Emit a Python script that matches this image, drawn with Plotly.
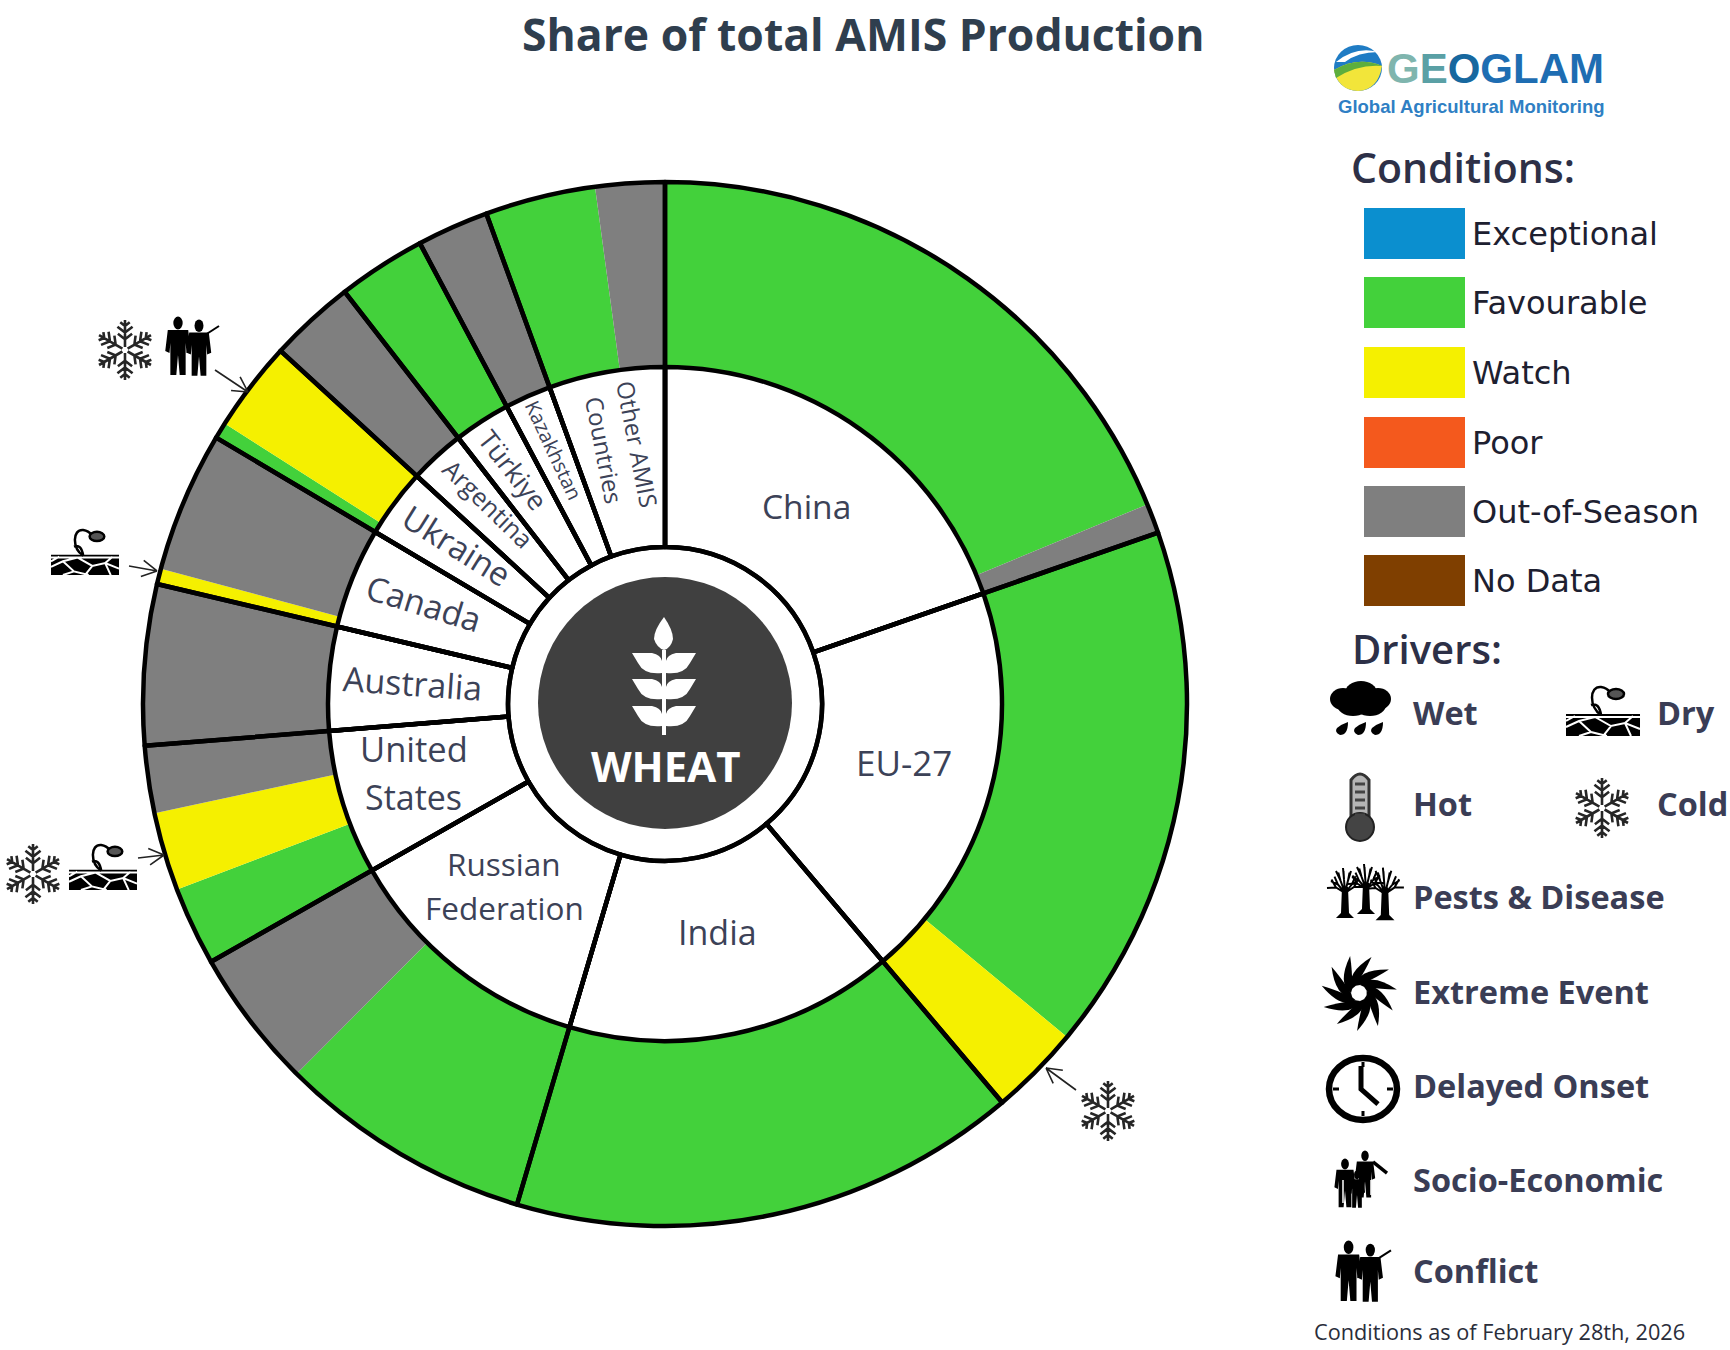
import math
import re
import plotly.graph_objects as go

W, H = 1730, 1350

# ---------- data (percent share of total AMIS production) ----------
countries = ["China", "EU-27", "India", "Russian Federation", "United States", "Australia",
             "Canada", "Ukraine", "Argentina", "Türkiye", "Kazakhstan", "Other AMIS Countries"]
china = [18.75, 0.92]
eu27 = [16.33, 2.81]
india = [15.75]
russia = [7.89, 4.31]
united_states = [2.44, 2.42, 2.08]
australia = [4.97]
canada = [0.48, 4.35]
ukraine = [0.50, 2.80]
argentina = [2.66]
turkiye = [2.73]
kazakhstan = [2.22]
other = [3.42, 2.14]

china_cond = ["Favourable", "Out-of-Season"]
eu27_cond = ["Favourable", "Watch"]
india_cond = ["Favourable"]
russia_cond = ["Favourable", "Out-of-Season"]
us_cond = ["Favourable", "Watch", "Out-of-Season"]
australia_cond = ["Out-of-Season"]
canada_cond = ["Watch", "Out-of-Season"]
ukraine_cond = ["Favourable", "Watch"]
argentina_cond = ["Out-of-Season"]
turkiye_cond = ["Favourable"]
kazakhstan_cond = ["Out-of-Season"]
other_cond = ["Favourable", "Out-of-Season"]

condition_names = ["Exceptional", "Favourable", "Watch", "Poor", "Out-of-Season", "No Data"]
condition_colors = ["#0b8fcf", "#43d13b", "#f5f000", "#f4591d", "#7f7f7f", "#7f3f00"]
driver_names = ["Wet", "Dry", "Hot", "Cold", "Pests & Disease", "Extreme Event",
                "Delayed Onset", "Socio-Economic", "Conflict"]

# ---------- derived ----------
groups = [china, eu27, india, russia, united_states, australia, canada, ukraine,
          argentina, turkiye, kazakhstan, other]
cond_groups = [china_cond, eu27_cond, india_cond, russia_cond, us_cond, australia_cond, canada_cond,
               ukraine_cond, argentina_cond, turkiye_cond, kazakhstan_cond, other_cond]
seg_values = [v for g in groups for v in g]
seg_conds = [c for g in cond_groups for c in g]
cmap = dict(zip(condition_names, condition_colors))
seg_colors = [cmap[c] for c in seg_conds]
shares = [sum(g) for g in groups]

# ---------- geometry ----------
CX, CY, R1, R2, R3 = 665, 704, 522, 337, 157
LW = 4.5


def dom(r):
    return dict(x=[(CX - r) / W, (CX + r) / W], y=[1 - (CY + r) / H, 1 - (CY - r) / H])


fig = go.Figure()
fig.add_trace(go.Pie(values=seg_values, labels=[f"{i}" for i in range(len(seg_values))],
                     marker=dict(colors=seg_colors, line=dict(width=0)), sort=False,
                     direction="clockwise", rotation=0, hole=R2 / R1, domain=dom(R1),
                     textinfo="none", hoverinfo="skip", showlegend=False))
fig.add_trace(go.Pie(values=shares, labels=countries,
                     marker=dict(colors=["white"] * 12, line=dict(color="black", width=LW)), sort=False,
                     direction="clockwise", rotation=0, hole=R3 / R2, domain=dom(R2),
                     textinfo="none", hoverinfo="skip", showlegend=False))
fig.add_trace(go.Pie(values=shares, labels=countries,
                     marker=dict(colors=["rgba(0,0,0,0)"] * 12, line=dict(color="black", width=LW)), sort=False,
                     direction="clockwise", rotation=0, hole=R3 / R1, domain=dom(R1),
                     textinfo="none", hoverinfo="skip", showlegend=False))

shapes, annos = [], []


def conv(d):
    out = []
    tok = re.findall(r"[MLQCZ]|-?\d+\.?\d*(?:e-?\d+)?", d)
    isx = True
    for t in tok:
        if t in "MLQCZ":
            out.append(t)
            isx = True
        else:
            v = float(t)
            out.append(f"{v / W:.5f}" if isx else f"{1 - v / H:.5f}")
            isx = not isx
    return " ".join(out)


def path(d, fill=None, line=None, width=0):
    s = dict(type="path", xref="paper", yref="paper", path=conv(d), layer="above",
             line=dict(width=width, color=line or "rgba(0,0,0,0)"))
    if fill:
        s["fillcolor"] = fill
    shapes.append(s)


def rect(x0, y0, x1, y1, fill):
    shapes.append(dict(type="rect", xref="paper", yref="paper", x0=x0 / W, x1=x1 / W, y0=1 - y0 / H, y1=1 - y1 / H,
                       fillcolor=fill, line=dict(width=0), layer="above"))


def ell(cx, cy, rx, ry, fill=None, line=None, width=0):
    s = dict(type="circle", xref="paper", yref="paper", x0=(cx - rx) / W, x1=(cx + rx) / W,
             y0=1 - (cy + ry) / H, y1=1 - (cy - ry) / H, layer="above",
             line=dict(width=width, color=line or "rgba(0,0,0,0)"))
    if fill:
        s["fillcolor"] = fill
    shapes.append(s)


def text(x, y, t, size, color, anchor="left", angle=0, weight=400, family="Open Sans"):
    annos.append(dict(xref="paper", yref="paper", x=x / W, y=1 - y / H, text=t,
                      showarrow=False, xanchor=anchor, yanchor="middle", textangle=angle,
                      font=dict(size=size, color=color, family=family, weight=weight), align="center"))


# ---------- icons ----------
def snow(cx, cy, r, c="#262626"):
    d = ""
    for k in range(6):
        a = math.radians(60 * k + 90)
        ux, uy = math.cos(a), math.sin(a)
        d += f"M {cx + .1 * r * ux} {cy + .1 * r * uy} L {cx + r * ux} {cy + r * uy} "
        for f, b in ((.36, .30), (.58, .32), (.8, .2)):
            px, py = cx + f * r * ux, cy + f * r * uy
            for s in (-1, 1):
                a2 = a + s * math.radians(52)
                d += f"M {px} {py} L {px + b * r * math.cos(a2)} {py + b * r * math.sin(a2)} "
    path(d, line=c, width=2.6)


def dry(cx, cy, w):
    u = w / 74
    path(f"M {cx - 37 * u} {cy + 2 * u} L {cx + 37 * u} {cy + 2 * u} L {cx + 37 * u} {cy + 24 * u} L {cx - 37 * u} {cy + 24 * u} Z",
         fill="black")
    d = ""
    for pts in [[(-37, 15), (-24, 9), (-8, 5), (8, 14), (22, 11), (37, 17)],
                [(-24, 9), (-12, 20), (4, 24)], [(-37, 9), (-28, 4)], [(8, 14), (0, 24)],
                [(22, 11), (30, 4)], [(22, 11), (28, 24)], [(-12, 20), (-24, 24)], [(-37, 5), (37, 5)]]:
        d += "M " + " L ".join(f"{cx + a * u} {cy + b * u}" for a, b in pts) + " "
    path(d, line="white", width=2)
    path(f"M {cx - 2 * u} {cy + 3 * u} Q {cx - 4 * u} {cy - 10 * u} {cx - 12 * u} {cy - 7 * u} "
         f"M {cx - 2 * u} {cy + 3 * u} C {cx - 14 * u} {cy - 5 * u} {cx - 14 * u} {cy - 26 * u} {cx - 2 * u} {cy - 25 * u} "
         f"Q {cx + 4 * u} {cy - 24 * u} {cx + 7 * u} {cy - 20 * u}", line="black", width=2.5)
    ell(cx + 13 * u, cy - 18 * u, 8 * u, 5 * u, line="black", width=2.5, fill="#555555")


def wet(cx, cy):
    for dx, dy, rx, ry in [(-18, -12, 13, 11), (0, -18, 16, 12), (17, -12, 13, 11), (-8, -6, 16, 11), (9, -6, 16, 11)]:
        ell(cx + dx, cy + dy, rx, ry, fill="black")
    for dx in (-19, -1, 16):
        x, y = cx + dx, cy + 18
        path(f"M {x + 6} {y - 7} Q {x + 6} {y + 6} {x - 2} {y + 6} Q {x - 8} {y + 3} {x - 5} {y - 1} Q {x} {y - 5} {x + 6} {y - 7} Z",
             fill="black")


def hot(cx, cy):
    path(f"M {cx - 9} {cy + 16} L {cx - 9} {cy - 26} Q {cx} {cy - 38} {cx + 9} {cy - 26} L {cx + 9} {cy + 16} Z",
         fill="#b5b5b5", line="#333333", width=3)
    ell(cx, cy + 21, 14, 14, fill="#444444", line="#222222", width=2)
    d = "".join(f"M {cx - 5} {cy + k} L {cx + 5} {cy + k} " for k in (-22, -14, -6, 2, 9))
    path(d, line="#444444", width=3)


def tree(cx, cy, u):
    path(f"M {cx - 3 * u} {cy - 8 * u} L {cx + 3 * u} {cy - 8 * u} L {cx + 4 * u} {cy + 18 * u} L {cx + 9 * u} {cy + 23 * u} "
         f"L {cx - 9 * u} {cy + 23 * u} L {cx - 4 * u} {cy + 18 * u} Z", fill="black")
    d = ""
    for tx, ty in [(-14, -14), (-9, -24), (-2, -27), (6, -24), (14, -15), (18, -8), (-18, -7)]:
        mx, my = tx * .5, -8 + (ty + 8) * .4
        d += f"M {cx} {cy - 2 * u} L {cx + mx * u} {cy + my * u} L {cx + tx * u} {cy + ty * u} "
        d += f"M {cx + mx * u} {cy + my * u} L {cx + (mx + tx * .25) * u} {cy + (my - 8) * u} "
    path(d, line="black", width=2)


def pests(cx, cy):
    tree(cx - 19, cy + 1, 1)
    tree(cx + 2, cy - 3, 1)
    tree(cx + 21, cy + 2, 1.05)


def extreme(cx, cy):
    n = 11
    for k in range(n):
        a = 2 * math.pi * k / n
        r0, r1, r2 = 8, 24, 38
        pol = lambda r, off: (cx + r * math.cos(a + off), cy + r * math.sin(a + off))
        p0, c1, tip, c2, p1 = pol(r0, -.3), pol(r1, .12), pol(r2, 1.05), pol(r1, 1.0), pol(r0, .3)
        path(f"M {p0[0]} {p0[1]} Q {c1[0]} {c1[1]} {tip[0]} {tip[1]} Q {c2[0]} {c2[1]} {p1[0]} {p1[1]} Z", fill="black")


def clock(cx, cy):
    ell(cx, cy, 34, 31, line="black", width=6.5)
    path(f"M {cx - 2} {cy - 23} L {cx - 2} {cy} L {cx + 15} {cy + 15}", line="black", width=5)
    d = "".join(f"M {cx + 30 * a} {cy + 27 * b} L {cx + 24 * a} {cy + 22 * b} " for a, b in ((0, -1), (1, 0), (0, 1), (-1, 0)))
    path(d, line="black", width=3)


def person(cx, top, h, c="black"):
    u = h / 60
    v = u * .85
    ell(cx, top + 6 * u, 5.5 * v, 6.5 * u, fill=c)
    path(f"M {cx - 12 * v} {top + 13 * u} L {cx + 12 * v} {top + 13 * u} L {cx + 15 * v} {top + 34 * u} L {cx + 10 * v} {top + 36 * u} "
         f"L {cx + 9 * v} {top + 26 * u} L {cx + 9 * v} {top + 58 * u} L {cx + 2 * v} {top + 58 * u} L {cx} {top + 38 * u} "
         f"L {cx - 2 * v} {top + 58 * u} L {cx - 9 * v} {top + 58 * u} L {cx - 9 * v} {top + 26 * u} L {cx - 10 * v} {top + 36 * u} "
         f"L {cx - 15 * v} {top + 34 * u} Z", fill=c)


def conflict(cx, cy, h):
    u = h / 60
    person(cx - 12 * u, cy - 29 * u, h)
    person(cx + 9 * u, cy - 26 * u, h * .96)
    path(f"M {cx + 12 * u} {cy - 9 * u} L {cx + 29 * u} {cy - 20 * u}", line="black", width=2)


def socio(cx, cy):
    person(cx + 4, cy - 32, 48)
    person(cx - 16, cy - 24, 50)
    path(f"M {cx + 12} {cy - 21} L {cx + 26} {cy - 10}", line="black", width=3.5)
    person(cx - 4, cy - 12, 38)
    path(f"M {cx - 18} {cy - 3} L {cx - 18} {cy + 20} M {cx + 10} {cy - 3} L {cx + 10} {cy + 12}", line="white", width=1.5)


def arrow(x0, y0, x1, y1):
    a = math.atan2(y1 - y0, x1 - x0)
    d = f"M {x0} {y0} L {x1} {y1} "
    for s in (-1, 1):
        b = a + math.pi + s * .5
        d += f"M {x1} {y1} L {x1 + 17 * math.cos(b)} {y1 + 17 * math.sin(b)} "
    path(d, line="#222222", width=1.6)


# ---------- centre ----------
ell(CX, CY - 1, 127, 126, fill="#404040")
path("M 664 617 Q 654 630 654 639 Q 657 648 664 650 Q 671 648 673 639 Q 673 630 664 617 Z", fill="white")
path("M 664 650 L 664 735", line="white", width=4)
for y in (653, 679, 706):
    path(f"M 632 {y} L 652 {y} Q 661 {y + 2} 662 {y + 8} L 662 {y + 20} Q 644 {y + 22} 638 {y + 10} Z", fill="white")
    path(f"M 696 {y} L 676 {y} Q 667 {y + 2} 666 {y + 8} L 666 {y + 20} Q 684 {y + 22} 690 {y + 10} Z", fill="white")
text(CX + 1, 765, "WHEAT", 42, "white", "center", weight=700)

# ---------- ring labels ----------
TC = "#3c4257"
label_layout = [
    ("China", 806, 506, 33.5, 0), ("EU-27", 904, 762, 35, 0), ("India", 717, 932, 34, 0),
    ("Russian", 504, 863, 31.5, 0), ("Federation", 504, 907, 31.5, 0),
    ("United", 414, 749, 34.5, 0), ("States", 413, 797, 34, 0),
    ("Australia", 413, 683, 34, 4), ("Canada", 424, 603, 33.5, 17), ("Ukraine", 457, 545, 33, 32),
    ("Argentina", 488, 503, 25, 44), ("Türkiye", 513, 470, 27, 52), ("Kazakhstan", 553, 450, 20, 65),
    ("Other AMIS", 638, 444, 24, 79), ("Countries", 604, 450, 24, 79),
]
for t, x, y, s, a in label_layout:
    text(x, y, t, s, TC, "center", a)

# ---------- annotated drivers on ring ----------
snow(125, 350, 30)
conflict(190, 346, 60)
arrow(215, 370, 248, 392)
dry(85, 553, 68)
arrow(129, 566, 157, 571)
snow(33, 874, 30)
dry(103, 868, 68)
arrow(138, 858, 164, 855)
snow(1108, 1111, 30)
arrow(1076, 1090, 1046, 1068)

# ---------- title ----------
text(863, 33, "Share of total AMIS Production", 44.5, "#2f3e4e", "center", weight=700)

# ---------- logo ----------
ell(1358, 68, 24, 23, fill="#1f7cc4")
path("M 1334 70 Q 1358 56 1382 66 Q 1378 90 1358 91 Q 1338 90 1334 70 Z", fill="#f2e53a")
path("M 1336 62 Q 1356 46 1378 52 Q 1358 52 1345 62 Z", fill="white")
path("M 1334 70 Q 1358 56 1382 66 Q 1358 64 1336 78 Z", fill="#5dae3d")
text(1385, 68, '<span style="color:#7fb5ae">G</span><span style="color:#5aa0a5">E</span><span style="color:#17689f">O</span>GLAM',
     42, "#1e6db2", weight=700, family="Liberation Sans")
text(1336, 106, "Global Agricultural Monitoring", 18.5, "#2f7fc4", weight=700, family="Liberation Sans")

# ---------- conditions legend ----------
text(1349, 167, "Conditions:", 41, "#2d3047", weight=600)
swatch_top = [208, 277, 347, 417, 486, 555]
for name, col, top in zip(condition_names, condition_colors, swatch_top):
    rect(1364, top, 1465, top + 51, col)
    text(1470, top + 26, name, 32, "#1d2030", family="DejaVu Sans")

# ---------- drivers legend ----------
text(1350, 649, "Drivers:", 40, "#2d3047", weight=600)
DC = "#3a3d55"
driver_pos = [(1411, 712), (1655, 712), (1411, 803), (1655, 803), (1411, 897), (1411, 991),
              (1411, 1085), (1411, 1179), (1411, 1270)]
for name, (x, y) in zip(driver_names, driver_pos):
    text(x, y, name, 32.5, DC, weight=700)
wet(1361, 711)
dry(1603, 712, 74)
hot(1360, 806)
snow(1602, 808, 30)
pests(1364, 894)
extreme(1359, 993)
clock(1363, 1089)
socio(1361, 1183)
conflict(1361, 1271, 62)
text(1312, 1331, "Conditions as of February 28th, 2026", 21.7, "#2a2d3a", weight=500)

fig.update_layout(width=W, height=H, margin=dict(l=0, r=0, t=0, b=0), paper_bgcolor="white",
                  plot_bgcolor="white", shapes=shapes, annotations=annos, showlegend=False)
fig.write_html("out.html", config=dict(displayModeBar=False),
               post_script="document.body.style.margin='0';document.body.style.overflow='hidden';")
